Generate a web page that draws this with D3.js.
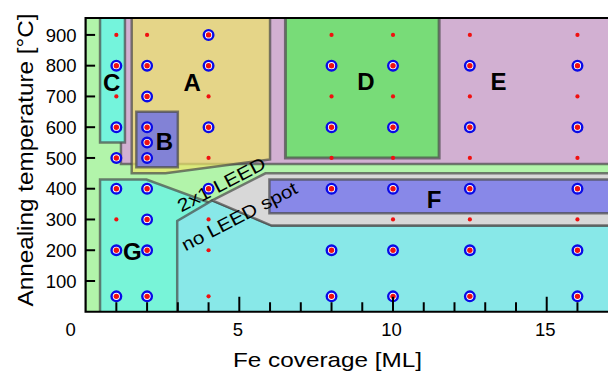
<!DOCTYPE html>
<html>
<head>
<meta charset="utf-8">
<script src="https://cdn.jsdelivr.net/npm/d3@7"></script>
<style>
  html, body { margin: 0; padding: 0; background: #fff; }
  svg { display: block; font-family: "Liberation Sans", Arial, Helvetica, sans-serif; }
</style>
</head>
<body>
<div id="chart"></div>
<script>
// Phase diagram: Fe coverage vs annealing temperature, regions A-G + sample points.

// ---- data ----
const xTicks = d3.range(1, 17);
const xTickLabels = [0, 5, 10, 15];
const yTicks = [100, 200, 300, 400, 500, 600, 700, 800, 900];

// sample points [coverage ML, temperature C]
const ringed = [
  [1, 800], [1, 600], [1, 500], [1, 400], [1, 200], [1, 50],
  [2, 800], [2, 700], [2, 600], [2, 550], [2, 500], [2, 400], [2, 300], [2, 200], [2, 50],
  [4, 900], [4, 800], [4, 600], [4, 400],
  [8, 800], [8, 600], [8, 400], [8, 200], [8, 50],
  [10, 800], [10, 600], [10, 400], [10, 200], [10, 50],
  [12.5, 800], [12.5, 600], [12.5, 400], [12.5, 200], [12.5, 50],
  [16, 800], [16, 600], [16, 400], [16, 200], [16, 50]
];
const plain = [
  [1, 900], [1, 700], [1, 300],
  [2, 900],
  [4, 700], [4, 500], [4, 300], [4, 200], [4, 50],
  [8, 900], [8, 700], [8, 500],
  [10, 900], [10, 700], [10, 500], [10, 300],
  [12.5, 900], [12.5, 700], [12.5, 500], [12.5, 300],
  [16, 900], [16, 700], [16, 500], [16, 300]
];

// region outlines [coverage, temperature]
const regionE = [[1.15, 480], [18, 480], [18, 1000], [1.15, 1000]];
const regionC = [[0.47, 550], [1.28, 550], [1.28, 1000], [0.47, 1000]];
const regionA = [[1.5, 1000], [6.0, 1000], [6.0, 495], [2.6, 450], [1.5, 450]];
const regionB = [[1.65, 470], [3.0, 470], [3.0, 650], [1.65, 650]];
const regionD = [[6.5, 500], [11.5, 500], [11.5, 1000], [6.5, 1000]];
const regionG = [[0.47, -20], [0.47, 430], [1.98, 430], [6.05, 280], [18, 280], [18, -20]];
const regionH = [[2.98, -20], [2.98, 295], [4.12, 362], [6.05, 280], [18, 280], [18, -20]];
const regionNoSpot = [[4.12, 362], [5.85, 450], [18, 450], [18, 280], [6.05, 280]];
const regionF = [[5.98, 320], [18, 320], [18, 430], [5.98, 430]];

const regionLabels = [
  { t: 'C', x: 0.85, y: 745 }, { t: 'A', x: 3.47, y: 745 },
  { t: 'D', x: 9.12, y: 748 }, { t: 'E', x: 13.43, y: 748 },
  { t: 'B', x: 2.56, y: 553 }, { t: 'F', x: 11.34, y: 365 },
  { t: 'G', x: 1.52, y: 195 }
];
const phaseNotes = [
  { t: '2x1 LEED', x: 4.42, y: 414 },
  { t: 'no LEED spot', x: 5.0, y: 310 }
];

// ---- layout ----
const W = 608, H = 372;
const x = d3.scaleLinear().domain([0, 17]).range([85.6, 608.2]);
const y = d3.scaleLinear().domain([0, 955]).range([311.75, 18]);

const svg = d3.select('#chart').append('svg').attr('width', W).attr('height', H);

svg.append('clipPath').attr('id', 'plot')
  .append('rect').attr('x', x(0)).attr('y', y(955)).attr('width', W - x(0) + 5).attr('height', y(0) - y(955));

const plot = svg.append('g').attr('clip-path', 'url(#plot)');

plot.append('rect')
  .attr('x', x(0)).attr('y', y(955)).attr('width', W - x(0) + 5).attr('height', y(0) - y(955))
  .attr('fill', '#b2f4aa');

const line = d3.line().x((d) => x(d[0])).y((d) => y(d[1]));
const regions = [
  [regionE, '#d2b0d2', 1],
  [regionC, '#74f4dc', 1],
  [regionA, 'rgb(236,230,104)', 0.7],
  [regionB, '#8282d6', 1],
  [regionD, '#78dc78', 1],
  [regionG, '#78f4d8', 1],
  [regionH, '#88e8e8', 1],
  [regionNoSpot, '#d8d8d8', 1],
  [regionF, '#8888e8', 1]
];
regions.forEach(([pts, fill, op]) => {
  plot.append('path')
    .attr('d', line(pts) + 'Z')
    .attr('fill', fill).attr('fill-opacity', op)
    .attr('stroke', '#484848').attr('stroke-opacity', 0.7)
    .attr('stroke-width', pts === regionD ? 3 : 2.5)
    .attr('stroke-linejoin', 'miter');
});

// phase notes
phaseNotes.forEach((n, i) => {
  plot.append('text')
    .attr('transform', `translate(${x(n.x)},${y(n.y)}) rotate(-27.5)`)
    .attr('text-anchor', 'middle').attr('dy', '0.35em')
    .attr('font-size', 18)
    .attr('textLength', i === 0 ? 97 : 128).attr('lengthAdjust', 'spacingAndGlyphs')
    .attr('fill', '#000')
    .text(n.t);
});

// points
plot.selectAll('.ring').data(ringed).enter().append('circle')
  .attr('cx', (d) => x(d[0])).attr('cy', (d) => y(d[1]))
  .attr('r', 4.8).attr('fill', '#fff')
  .attr('stroke', '#0a0ae6').attr('stroke-width', 2.4);
plot.selectAll('.dotr').data(ringed).enter().append('circle')
  .attr('cx', (d) => x(d[0])).attr('cy', (d) => y(d[1]))
  .attr('r', 2.7).attr('fill', '#f01010');
plot.selectAll('.dot').data(plain).enter().append('circle')
  .attr('cx', (d) => x(d[0])).attr('cy', (d) => y(d[1]))
  .attr('r', 2.1).attr('fill', '#f01010');

// region letters
plot.selectAll('.lbl').data(regionLabels).enter().append('text')
  .attr('x', (d) => x(d.x)).attr('y', (d) => y(d.y))
  .attr('text-anchor', 'middle').attr('dy', '0.36em')
  .attr('font-size', 24).attr('font-weight', 'bold')
  .text((d) => d.t);

// ---- axes ----
const ax = svg.append('g');
ax.selectAll('.xt').data(xTicks).enter().append('line')
  .attr('x1', (d) => x(d)).attr('x2', (d) => x(d))
  .attr('y1', y(0)).attr('y2', (d) => y(0) - (d % 5 === 0 ? 15 : 9.5))
  .attr('stroke', '#000').attr('stroke-width', 2);
ax.selectAll('.yt').data(yTicks).enter().append('line')
  .attr('x1', x(0)).attr('x2', x(0) + 9.5)
  .attr('y1', (d) => y(d)).attr('y2', (d) => y(d))
  .attr('stroke', '#000').attr('stroke-width', 2);

ax.append('path')
  .attr('d', `M${W + 5},${y(955)}H${x(0)}V${y(0)}H${W + 5}`)
  .attr('fill', 'none').attr('stroke', '#000').attr('stroke-width', 2.2);

ax.selectAll('.xl').data(xTickLabels).enter().append('text')
  .attr('x', (d) => (d === 0 ? x(0) - 15 : x(d) - 1.5)).attr('y', 336)
  .attr('text-anchor', 'middle').attr('font-size', 18.5)
  .text((d) => d);
ax.selectAll('.yl').data(yTicks).enter().append('text')
  .attr('x', 76.5).attr('y', (d) => y(d)).attr('dy', '0.36em')
  .attr('text-anchor', 'end').attr('font-size', 18.5)
  .text((d) => d);

svg.append('text')
  .attr('x', 327.5).attr('y', 366.5).attr('text-anchor', 'middle')
  .attr('font-size', 21).attr('textLength', 189).attr('lengthAdjust', 'spacingAndGlyphs')
  .text('Fe coverage [ML]');
svg.append('text')
  .attr('transform', 'translate(33,160) rotate(-90)').attr('text-anchor', 'middle')
  .attr('font-size', 22).attr('textLength', 293).attr('lengthAdjust', 'spacingAndGlyphs')
  .text('Annealing temperature [°C]');
</script>
</body>
</html>
